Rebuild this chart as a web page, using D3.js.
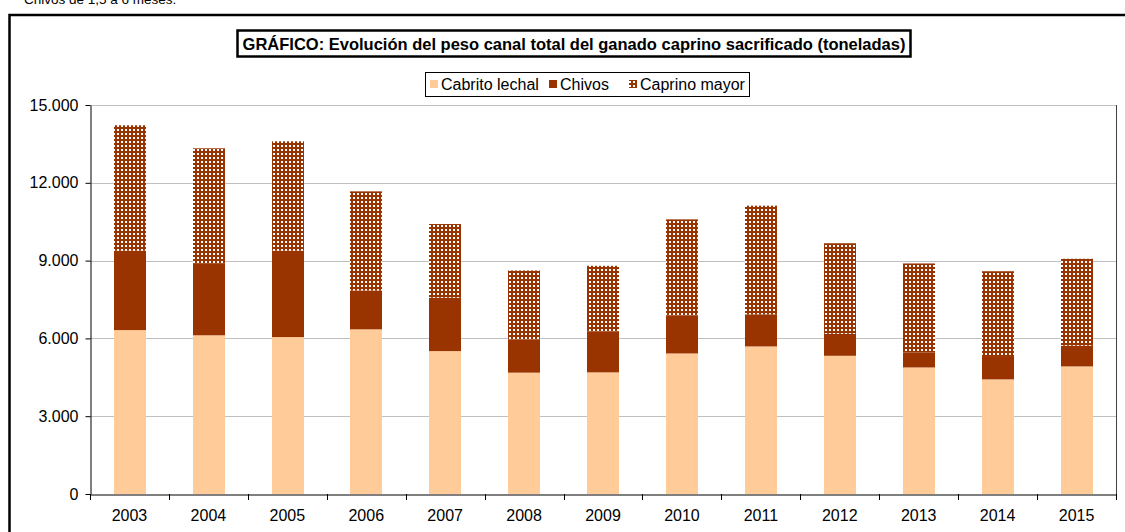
<!DOCTYPE html>
<html><head><meta charset="utf-8">
<script src="https://cdn.jsdelivr.net/npm/d3@7"></script>
<style>html,body{margin:0;padding:0;background:#fff;overflow:hidden}svg{display:block;font-family:Arial,"Liberation Sans",sans-serif}</style>
</head><body>
<svg id="c" width="1125" height="532"></svg>
<script>
const years = ["2003","2004","2005","2006","2007","2008","2009","2010","2011","2012","2013","2014","2015"];
const cabritoLechal = [6320,6120,6050,6350,5510,4680,4690,5420,5690,5330,4880,4420,4920];
const chivos = [3060,2780,3330,1500,2060,1280,1570,1470,1240,850,580,900,800];
const caprinoMayor = [4840,4430,4220,3820,2840,2660,2540,3700,4190,3490,3430,3270,3350];
const seriesNames = ["Cabrito lechal","Chivos","Caprino mayor"];
const yTicks = [0,3000,6000,9000,12000,15000];
const titleText = "GRÁFICO: Evolución del peso canal total del ganado caprino sacrificado (toneladas)";
const noteText = "Chivos de 1,5 a 6 meses.";

const svg = d3.select("#c");
const m = {l:90, r:1116, t:105, b:494};
const FF = "Arial, 'Liberation Sans', sans-serif";

// pattern
const defs = svg.append("defs");
const pat = defs.append("pattern").attr("id","dots").attr("patternUnits","userSpaceOnUse")
  .attr("width",4).attr("height",4);
pat.append("rect").attr("width",4).attr("height",4).attr("fill","#993300");
pat.append("rect").attr("x",1).attr("y",1).attr("width",2).attr("height",2).attr("fill","#ffffff");

const colors = ["#FFCC99","#993300","url(#dots)"];

// note text (cut off at top as in the original)
svg.append("text").attr("x",24).attr("y",4).attr("font-size",13.5).attr("fill","#000").text(noteText);

// outer frame
svg.append("rect").attr("x",9.5).attr("y",15).attr("width",1130).attr("height",540)
  .attr("fill","none").attr("stroke","#000").attr("stroke-width",2.5);

const x = d3.scaleBand().domain(years).range([m.l,m.r]).paddingInner(0.6).paddingOuter(0.3);
const xb = d3.scaleBand().domain(years).range([m.l,m.r]);
const y = d3.scaleLinear().domain([0,15000]).range([m.b,m.t]);

// gridlines
svg.append("g").selectAll("line").data(yTicks.filter(d=>d>0)).join("line")
  .attr("x1",m.l).attr("x2",m.r).attr("y1",d=>Math.round(y(d))+0.5).attr("y2",d=>Math.round(y(d))+0.5)
  .attr("stroke","#c0c0c0").attr("stroke-width",1);
// right border
svg.append("line").attr("x1",m.r+0.5).attr("x2",m.r+0.5).attr("y1",Math.round(y(15000))).attr("y2",m.b)
  .attr("stroke","#404040").attr("stroke-width",1);

// stacked data
const table = years.map((yr,i)=>({year:yr, "Cabrito lechal":cabritoLechal[i], "Chivos":chivos[i], "Caprino mayor":caprinoMayor[i]}));
const stack = d3.stack().keys(seriesNames)(table);
svg.append("g").selectAll("g").data(stack).join("g")
  .attr("fill",(d,i)=>colors[i])
  .selectAll("rect").data(d=>d).join("rect")
  .attr("x",d=>Math.round(x(d.data.year)))
  .attr("width",Math.round(x.bandwidth()))
  .attr("y",d=>y(d[1]))
  .attr("height",d=>y(d[0])-y(d[1]));

// y axis
const loc = d3.formatLocale({decimal:",",thousands:".",grouping:[3],currency:["","€"]});
const fmt = loc.format(",d");
const ya = svg.append("g").attr("transform",`translate(${m.l+0.5},0)`)
  .call(d3.axisLeft(y).tickValues(yTicks).tickFormat(fmt).tickSize(5).tickSizeOuter(0));
ya.select(".domain").attr("stroke","#000");
ya.selectAll(".tick line").attr("stroke","#000");
ya.selectAll(".tick text").attr("font-size",16).attr("font-family",FF).attr("fill","#000").attr("x",-12);

// x axis
const xa = svg.append("g").attr("transform",`translate(0,${m.b+0.5})`)
  .call(d3.axisBottom(xb).tickSize(0).tickSizeOuter(0));
xa.select(".domain").attr("stroke","#000");
xa.selectAll(".tick text").attr("font-size",16).attr("font-family",FF).attr("fill","#000").attr("dy",0).attr("y",26);
const bounds = years.map(d=>xb(d)).concat([m.r]);
svg.append("g").selectAll("line").data(bounds).join("line")
  .attr("x1",d=>Math.round(d)+0.5).attr("x2",d=>Math.round(d)+0.5)
  .attr("y1",m.b).attr("y2",m.b+6).attr("stroke","#000");

// title
const tg = svg.append("g");
tg.append("rect").attr("x",237.5).attr("y",30.5).attr("width",673).attr("height",26)
  .attr("fill","#fff").attr("stroke","#000").attr("stroke-width",2.5);
tg.append("text").attr("x",574).attr("y",49.5).attr("text-anchor","middle")
  .attr("font-size",16.5).attr("font-weight","bold").attr("fill","#000").text(titleText);

// legend
const lg = svg.append("g");
lg.append("rect").attr("x",425.5).attr("y",72.5).attr("width",324).attr("height",24)
  .attr("fill","#fff").attr("stroke","#000").attr("stroke-width",1);
const legX = [430,549,629];
seriesNames.forEach((s,i)=>{
  lg.append("rect").attr("x",legX[i]).attr("y",80).attr("width",8).attr("height",8).attr("fill",colors[i]);
  lg.append("text").attr("x",legX[i]+11).attr("y",90).attr("font-size",16).attr("fill","#000").text(s);
});
</script>
</body></html>
